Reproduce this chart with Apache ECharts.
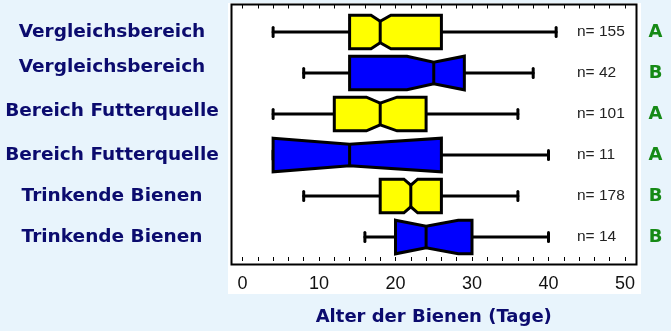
<!DOCTYPE html>
<html>
<head>
<meta charset="utf-8">
<script src="https://cdn.jsdelivr.net/npm/echarts@6/dist/echarts.min.js"></script>
<style>
html,body{margin:0;padding:0;background:#E8F4FC;}
#c{width:671px;height:331px;}
</style>
</head>
<body>
<div id="c"></div>
<script>
// ---- data ----
const categories = ['Vergleichsbereich','Vergleichsbereich','Bereich Futterquelle','Bereich Futterquelle','Trinkende Bienen','Trinkende Bienen'];
const whiskerLow  = [4, 8, 4, 4, 8, 16];
const q1          = [14, 14, 12, 4, 18, 20];
const median      = [18, 25, 18, 14, 22, 24];
const q3          = [26, 29, 24, 26, 26, 30];
const whiskerHigh = [41, 38, 36, 40, 36, 40];
const notchLow    = [16.8, 21.5, 16.2, 4, 21.1, 20];
const notchHigh   = [19.4, 29, 20.2, 26, 22.9, 28.2];
const nValues     = [155, 42, 101, 11, 178, 14];
const groups      = ['A','B','A','A','B','B'];
const xTicks      = [0, 10, 20, 30, 40, 50];

// ---- styling ----
const boxColors = ['#FFFF00','#0000FF','#FFFF00','#0000FF','#FFFF00','#0000FF'];
const labelShift = [0, 6, 3, 0, 0, 0]; // upward text nudges of left labels
const navy = '#0B0B6E';
const green = '#168A16';

const chart = echarts.init(document.getElementById('c'), null, {renderer:'canvas'});

function renderItem(params, api) {
  const cat = api.value(0);
  const wl = api.value(1), a = api.value(2), m = api.value(3), b = api.value(4), wh = api.value(5);
  const nl = api.value(6), nh = api.value(7);
  const y = api.coord([0, cat])[1];
  const X = v => api.coord([v, cat])[0];
  const band = api.size([0, 1])[1];
  const h = band * 0.41;
  const d = 6;
  const cap = 4.5;
  const pts = [[X(a), y - h]];
  if (nl > a) pts.push([X(nl), y - h]);
  pts.push([X(m), y - h + d]);
  if (nh < b) pts.push([X(nh), y - h]);
  pts.push([X(b), y - h], [X(b), y + h]);
  if (nh < b) pts.push([X(nh), y + h]);
  pts.push([X(m), y + h - d]);
  if (nl > a) pts.push([X(nl), y + h]);
  pts.push([X(a), y + h]);
  const ls = {stroke:'#000', lineWidth:3, lineCap:'round'};
  return {
    type:'group',
    children:[
      {type:'line', shape:{x1:X(wl), y1:y, x2:X(a), y2:y}, style:ls},
      {type:'line', shape:{x1:X(b), y1:y, x2:X(wh), y2:y}, style:ls},
      {type:'line', shape:{x1:X(wl), y1:y-cap, x2:X(wl), y2:y+cap}, style:ls},
      {type:'line', shape:{x1:X(wh), y1:y-cap, x2:X(wh), y2:y+cap}, style:ls},
      {type:'polygon', shape:{points:pts}, style:{fill:boxColors[params.dataIndex], stroke:'#000', lineWidth:3, lineJoin:'miter'}},
      {type:'line', shape:{x1:X(m), y1:y-h+d, x2:X(m), y2:y+h-d}, style:{stroke:'#000', lineWidth:3}}
    ]
  };
}

const boxData = categories.map((c, i) => [i, whiskerLow[i], q1[i], median[i], q3[i], whiskerHigh[i], notchLow[i], notchHigh[i]]);

const rich = {};
labelShift.forEach((s, i) => {
  rich['s' + i] = {fontFamily:'DejaVu Sans', fontWeight:'bold', fontSize:18.5, color:navy, padding:[0,0,2*s,0]};
});

const tickStyle = {show:true, inside:true, length:4, lineStyle:{color:'#000', width:1}};
const minorStyle = {show:true, splitNumber:5, length:4, lineStyle:{color:'#000', width:1}};

const option = {
  animation:false,
  backgroundColor:'#E8F4FC',
  graphic:[{type:'rect', z:-10, silent:true, shape:{x:228, y:3, width:413, height:291}, style:{fill:'#FFFFFF'}}],
  grid:[
    {left:231.5, top:4.5, width:405, height:260, show:true, borderColor:'#000', borderWidth:2, backgroundColor:'transparent', z:0},
    {left:242.5, right:46, top:4.5, height:260, show:false},
    {left:242.5, right:46, top:11.5, height:246, show:false}
  ],
  xAxis:[
    {gridIndex:0, type:'value', show:false},
    {gridIndex:1, type:'value', position:'bottom', min:xTicks[0], max:xTicks[xTicks.length-1], interval:xTicks[1]-xTicks[0], z:10,
     axisLine:{show:false}, axisTick:tickStyle, minorTick:minorStyle, splitLine:{show:false},
     axisLabel:{fontFamily:'Liberation Sans', fontSize:18, color:'#111', margin:14},
     name:'Alter der Bienen (Tage)', nameLocation:'middle', nameGap:47,
     nameTextStyle:{fontFamily:'DejaVu Sans', fontWeight:'bold', fontSize:18, color:navy}},
    {gridIndex:1, type:'value', position:'top', min:xTicks[0], max:xTicks[xTicks.length-1], interval:xTicks[1]-xTicks[0], z:10,
     axisLine:{show:false}, axisTick:tickStyle, minorTick:minorStyle, splitLine:{show:false}, axisLabel:{show:false}},
    {gridIndex:2, type:'value', min:xTicks[0], max:xTicks[xTicks.length-1], show:false}
  ],
  yAxis:[
    {gridIndex:0, type:'value', show:false},
    {gridIndex:1, type:'value', show:false},
    {gridIndex:2, type:'category', data:categories, inverse:true, position:'left',
     axisLine:{show:false}, axisTick:{show:false},
     axisLabel:{margin:130.5, align:'center', formatter:(v, i) => '{s' + i + '|' + v + '}', rich:rich}},
    {gridIndex:2, type:'category', data:nValues.map(n => 'n= ' + n), inverse:true, position:'right',
     axisLine:{show:false}, axisTick:{show:false},
     axisLabel:{inside:true, margin:48, align:'left', fontFamily:'Liberation Sans', fontSize:15.5, color:'#222'}},
    {gridIndex:2, type:'category', data:groups, inverse:true, position:'right',
     axisLine:{show:false}, axisTick:{show:false},
     axisLabel:{margin:30.5, align:'center', fontFamily:'DejaVu Sans', fontWeight:'bold', fontSize:18, color:green}}
  ],
  series:[{
    type:'custom', xAxisIndex:3, yAxisIndex:2, clip:false, z:5,
    renderItem:renderItem,
    encode:{x:[1,2,3,4,5], y:0},
    data:boxData
  }]
};
chart.setOption(option);
</script>
</body>
</html>
